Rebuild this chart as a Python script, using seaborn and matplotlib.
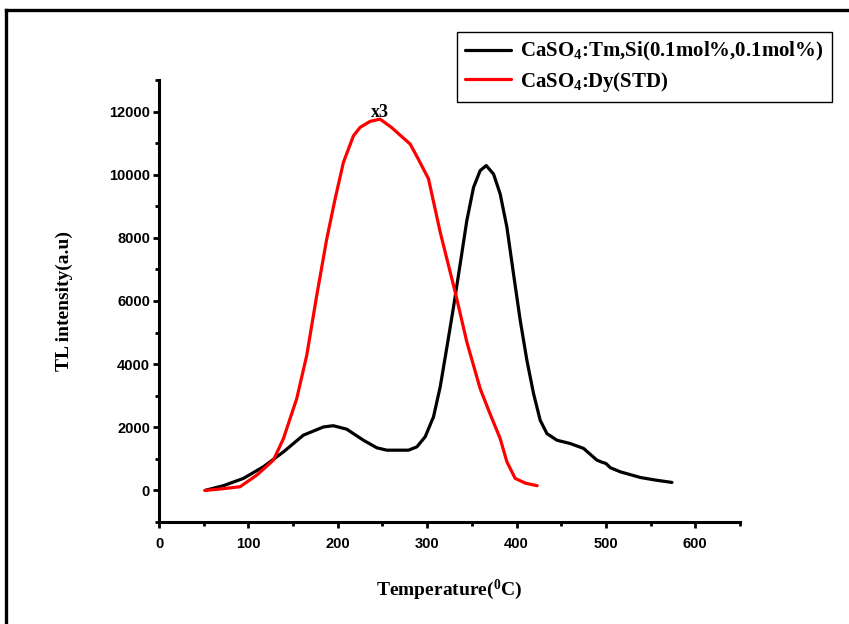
import numpy as np
import pandas as pd
import matplotlib
matplotlib.use("Agg")
import matplotlib.pyplot as plt
from matplotlib.lines import Line2D
from matplotlib.ticker import MultipleLocator
import seaborn as sns

# Glow curve of the Tm,Si co-doped phosphor
tm_si_temp = [51.5, 72, 94.4, 116.8, 139.2, 161.5, 183.9, 195, 210, 228.7, 243.7, 254.9,
              279.1, 288.5, 297.8, 307.1, 314.6, 322.1, 329.5, 337, 344.4, 351.9, 359.3,
              366.1, 374.3, 381.7, 389.2, 396.6, 404.1, 411.6, 419, 426.5, 434, 445.2,
              460, 475, 489.9, 495, 500, 504.9, 516, 538.5, 555, 573.9]
tm_si_int = [0, 150, 380, 750, 1220, 1750, 2010, 2050, 1940, 1590, 1350, 1275,
             1275, 1380, 1700, 2330, 3280, 4540, 5810, 7180, 8550, 9600, 10130,
             10290, 10020, 9390, 8340, 6860, 5390, 4120, 3070, 2220, 1800, 1590,
             1486, 1330, 960, 900, 854, 720, 590, 410, 330, 253]

# Glow curve of the CaSO4:Dy standard (shown x3)
dy_temp = [51.5, 70, 90.7, 109.4, 128, 139.2, 146.7, 154.1, 165.3, 176.5, 187.7, 197,
           206.3, 217.5, 225, 236.2, 247.4, 260, 281, 290, 301.5, 314.6, 331.4, 344.4,
           359.3, 370, 381.7, 389.2, 398.5, 410, 423]
dy_int = [0, 50, 117, 485, 960, 1640, 2280, 2910, 4280, 6180, 7970, 9230,
          10390, 11230, 11500, 11690, 11760, 11500, 10970, 10500, 9870, 8180, 6280, 4700,
          3225, 2450, 1644, 907, 380, 230, 150]

series_labels = [r"CaSO$_{\mathbf{4}}$:Tm,Si(0.1mol%,0.1mol%)", r"CaSO$_{\mathbf{4}}$:Dy(STD)"]
series_colors = ["black", "red"]

sns.set_style("ticks")
plt.rcParams["font.family"] = ["Liberation Sans", "DejaVu Sans"]
plt.rcParams["mathtext.fontset"] = "custom"
plt.rcParams["mathtext.rm"] = "Liberation Serif:bold"
plt.rcParams["mathtext.bf"] = "Liberation Serif:bold"
plt.rcParams["mathtext.it"] = "Liberation Serif:bold"
for key in ["text.color", "axes.labelcolor", "xtick.color", "ytick.color", "axes.edgecolor"]:
    plt.rcParams[key] = "black"

df = pd.concat([
    pd.DataFrame({"T": tm_si_temp, "I": tm_si_int, "s": series_labels[0]}),
    pd.DataFrame({"T": dy_temp, "I": dy_int, "s": series_labels[1]}),
])

fig = plt.figure(figsize=(8.49, 6.24), dpi=100)
ax = fig.add_axes([159 / 849, 1 - 522 / 624, (740 - 159) / 849, (522 - 80) / 624])

sns.lineplot(data=df, x="T", y="I", hue="s", palette=series_colors, ax=ax,
             linewidth=2.3, legend=False, sort=False, estimator=None)
for ln in ax.lines:
    ln.set_solid_joinstyle("round")

ax.set_xlim(0, 650)
ax.set_ylim(-1000, 13000)
ax.xaxis.set_minor_locator(MultipleLocator(50))
ax.yaxis.set_minor_locator(MultipleLocator(1000))
ax.set_xticks([0, 100, 200, 300, 400, 500, 600])
ax.set_yticks([0, 2000, 4000, 6000, 8000, 10000, 12000])
for sp in ["top", "right"]:
    ax.spines[sp].set_visible(False)
for sp in ["left", "bottom"]:
    ax.spines[sp].set_linewidth(2.2)
ax.tick_params(which="major", direction="out", length=4, width=2, labelsize=10.5)
ax.tick_params(which="minor", direction="out", length=3, width=2)
ax.tick_params(axis="x", which="major", pad=7)
ax.tick_params(axis="y", which="major", pad=2.5)
for lab in ax.get_xticklabels() + ax.get_yticklabels():
    lab.set_fontweight("bold")

ax.set_xlabel(r"Temperature($^{\mathbf{0}}$C)", fontfamily="Liberation Serif",
              fontweight="bold", fontsize=14, labelpad=19)
ax.set_ylabel("TL intensity(a.u)", fontfamily="Liberation Serif",
              fontweight="bold", fontsize=14, labelpad=26)

ax.text(247, 11700, "x3", fontfamily="Liberation Serif", fontweight="bold",
        fontsize=13, ha="center", va="bottom")

handles = [Line2D([], [], color=c, lw=2.3) for c in series_colors]
leg = ax.legend(handles, series_labels, loc="upper right",
                bbox_to_anchor=(832 / 849, 1 - 32 / 624), bbox_transform=fig.transFigure,
                frameon=True, fancybox=False, edgecolor="black", framealpha=1,
                prop={"family": "Liberation Serif", "weight": "bold", "size": 15},
                handlelength=2.2, handletextpad=0.45, borderpad=0.4, labelspacing=0.3,
                borderaxespad=0)
leg.get_frame().set_linewidth(1.0)

# outer border along the top and left edges of the figure
fig.add_artist(Line2D([6.2 / 849, 6.2 / 849], [0, 1 - 9.5 / 624], transform=fig.transFigure,
                      color="black", lw=2.4, solid_capstyle="projecting"))
fig.add_artist(Line2D([6.2 / 849, 1], [1 - 9.5 / 624, 1 - 9.5 / 624], transform=fig.transFigure,
                      color="black", lw=2.4, solid_capstyle="projecting"))

fig.savefig("out.png", dpi=100)
